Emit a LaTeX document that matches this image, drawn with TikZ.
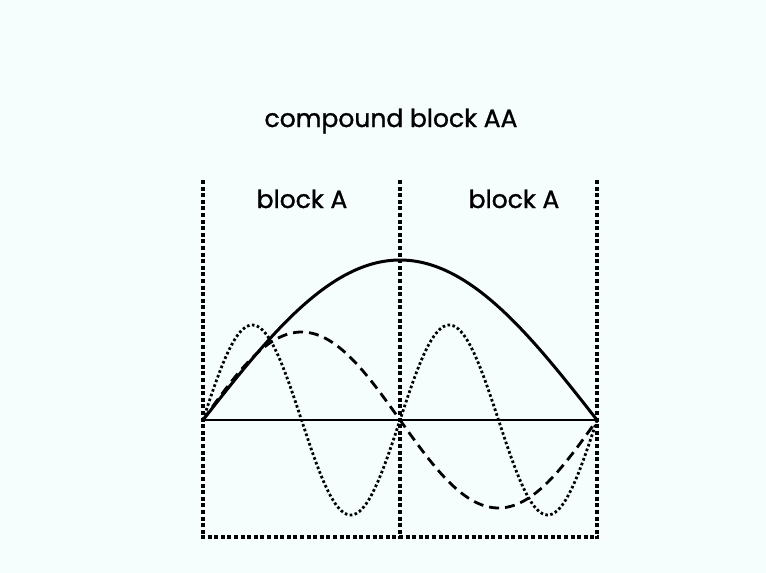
\documentclass[tikz,border=0pt]{standalone}
\usepackage{fontspec}
\setmainfont{Poppins}[FakeBold=1.2]
\definecolor{bg}{RGB}{246,253,253}
\tikzset{
  label/.style={font=\fontsize{25}{27}\selectfont, inner sep=0pt, anchor=base},
  frameline/.style={line width=4pt, dash pattern=on 4pt off 2.6pt},
}
\begin{document}
\begin{tikzpicture}[x=1pt,y=-1pt]
\fill[bg] (0,0) rectangle (766,573);
\useasboundingbox (0,0) rectangle (766,573);
% title and labels
\node[label] (title) at (391,127) {compound block AA};
\node[label] (la) at (302,208) {block A};
\node[label] (lb) at (514,208) {block A};
% frame
\draw[frameline] (203,180) -- (203,539);
\draw[frameline] (400,180) -- (400,539);
\draw[frameline] (597,180) -- (597,539);
\draw[frameline] (201,537) -- (599,537);
% axis
\draw[line width=1.6pt] (203,420) -- (597,420);
% curves
\draw[line width=3pt, domain=0:394, samples=120, smooth]
  plot ({203+\x},{420-160*sin(\x/394*180)});
\draw[line width=2.8pt, dash pattern=on 10pt off 6pt, domain=0:394, samples=120, smooth]
  plot ({203+\x},{420-88*sin(\x/394*360)});
\draw[line width=2.8pt, dash pattern=on 2.6pt off 2.4pt, domain=0:394, samples=160, smooth]
  plot ({203+\x},{420-95*sin(\x/394*720)});
\end{tikzpicture}
\end{document}
